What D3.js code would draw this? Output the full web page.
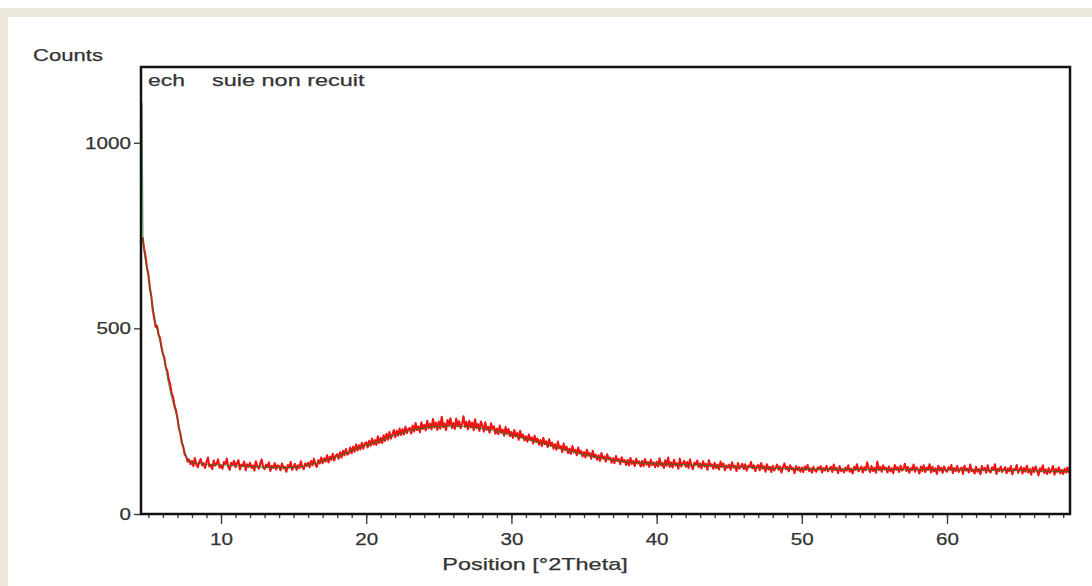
<!DOCTYPE html>
<html>
<head>
<meta charset="utf-8">
<script src="https://cdn.jsdelivr.net/npm/d3@7"></script>
<style>
  html, body { margin: 0; padding: 0; background: #fff; }
  svg { display: block; }
  text { font-family: "Liberation Sans", Arial, sans-serif; fill: #333; stroke: #333; stroke-width: 0.25; }
</style>
</head>
<body>
<svg id="chart" width="1092" height="586"></svg>
<script>
// Diffractogram: sample "suie non recuit" (unannealed soot)
const sampleName = "ech";
const sampleLabel = "suie non recuit";
const xTitle = "Position [°2Theta]";
const yTitle = "Counts";

const thetaRange = [4.49, 68.47];
const countsMax = 1204;
const xMajorTicks = [10, 20, 30, 40, 50, 60];
const yTicks = [0, 500, 1000];

// Measured scan, 0.1° steps starting at 4.6°; one row per degree
const thetaStart = 4.6;
const thetaStep = 0.1;
const counts = [
  745, 716, 695, 664,                                   // 4.6
  645, 608, 586, 549, 527, 504, 507, 483, 474, 449,     // 5
  431, 421, 395, 386, 362, 350, 325, 315, 292, 279,     // 6
  259, 231, 217, 192, 181, 160, 155, 141, 147, 134,     // 7
  143, 129, 151, 134, 126, 140, 148, 131, 137, 124,     // 8
  139, 152, 128, 133, 121, 144, 130, 136, 147, 125,     // 9
  131, 122, 140, 135, 149, 127, 119, 138, 132, 143,     // 10
  126, 137, 145, 120, 133, 129, 141, 118, 134, 127,     // 11
  138, 124, 131, 117, 142, 128, 122, 135, 147, 126,     // 12
  121, 133, 126, 139, 116, 130, 124, 137, 120, 131,     // 13
  129, 118, 136, 123, 127, 114, 132, 125, 140, 119,     // 14
  128, 135, 119, 131, 124, 142, 126, 121, 136, 129,     // 15
  138, 126, 143, 131, 149, 133, 127, 145, 136, 152,     // 16
  137, 150, 141, 158, 139, 155, 146, 162, 144, 157,     // 17
  161, 149, 166, 152, 170, 158, 175, 160, 163, 179,     // 18
  164, 181, 168, 187, 171, 185, 174, 192, 176, 189,     // 19
  193, 179, 197, 184, 203, 187, 199, 186, 209, 191,     // 20
  205, 191, 212, 197, 216, 200, 221, 203, 214, 226,     // 21
  207, 224, 211, 230, 213, 228, 214, 235, 218, 229,     // 22
  232, 217, 238, 222, 245, 226, 236, 220, 247, 229,     // 23
  240, 225, 251, 231, 243, 228, 256, 233, 246, 227,     // 24
  249, 230, 262, 234, 244, 226, 253, 238, 258, 232,     // 25
  245, 229, 257, 236, 250, 231, 243, 263, 235, 248,     // 26
  228, 251, 233, 246, 226, 255, 231, 242, 224, 249,     // 27
  238, 222, 247, 227, 235, 219, 244, 229, 236, 216,     // 28
  230, 215, 238, 219, 227, 211, 234, 216, 229, 210,     // 29
  221, 205, 226, 209, 218, 200, 224, 206, 214, 198,     // 30
  209, 195, 214, 199, 206, 190, 211, 194, 203, 187,     // 31
  199, 183, 205, 188, 196, 180, 201, 184, 192, 176,     // 32
  188, 173, 195, 177, 183, 167, 190, 172, 181, 164,     // 33
  176, 162, 183, 166, 173, 158, 179, 163, 170, 155,     // 34
  167, 152, 173, 157, 164, 149, 170, 153, 160, 146,     // 35
  158, 143, 164, 149, 155, 141, 161, 147, 152, 138,     // 36
  150, 137, 156, 142, 148, 134, 153, 140, 145, 132,     // 37
  146, 131, 151, 135, 143, 129, 149, 136, 142, 128,     // 38
  143, 129, 148, 133, 140, 127, 146, 132, 139, 126,     // 39
  141, 128, 150, 131, 138, 124, 145, 130, 152, 127,     // 40
  139, 125, 146, 131, 137, 122, 149, 128, 136, 143,     // 41
  127, 140, 124, 147, 130, 121, 138, 133, 144, 126,     // 42
  136, 123, 142, 128, 135, 119, 145, 129, 134, 122,     // 43
  138, 124, 133, 120, 141, 127, 136, 118, 131, 125,     // 44
  133, 119, 139, 125, 130, 116, 137, 122, 128, 135,     // 45
  121, 134, 117, 130, 126, 140, 123, 131, 115, 128,     // 46
  132, 118, 137, 122, 129, 114, 134, 120, 127, 113,     // 47
  130, 117, 125, 133, 119, 128, 112, 126, 136, 121,     // 48
  127, 115, 131, 120, 124, 110, 129, 118, 126, 114,     // 49
  125, 113, 128, 119, 132, 116, 123, 111, 127, 118,     // 50
  114, 126, 120, 129, 112, 124, 117, 130, 115, 122,     // 51
  127, 113, 133, 118, 124, 110, 129, 116, 121, 112,     // 52
  125, 117, 131, 114, 122, 109, 127, 119, 134, 115,     // 53
  121, 128, 112, 126, 118, 139, 123, 113, 129, 116,     // 54
  124, 111, 141, 118, 127, 114, 131, 120, 125, 112,     // 55
  128, 115, 123, 110, 132, 119, 126, 113, 130, 117,     // 56
  122, 135, 116, 127, 111, 124, 118, 133, 114, 126,     // 57
  120, 109, 128, 116, 131, 113, 125, 119, 134, 112,     // 58
  127, 115, 123, 108, 130, 117, 125, 111, 128, 118,     // 59
  114, 126, 119, 132, 110, 124, 116, 129, 113, 121,     // 60
  125, 108, 130, 117, 122, 112, 133, 115, 120, 109,     // 61
  127, 114, 121, 107, 129, 118, 124, 111, 131, 116,     // 62
  112, 125, 119, 134, 108, 122, 116, 128, 113, 120,     // 63
  126, 110, 123, 115, 129, 107, 121, 118, 132, 111,     // 64
  119, 127, 109, 124, 114, 130, 112, 121, 106, 125,     // 65
  113, 128, 117, 104, 123, 115, 131, 110, 120, 108,     // 66
  124, 111, 118, 129, 106, 121, 113, 126, 109, 119,     // 67
  108, 122, 112, 125, 110                               // 68
];

// Smooth profile (fitted background) drawn over the scan
const profileTheta = [4.56, 4.63, 5.0, 5.5, 6.0, 6.5, 7.0, 7.5, 7.8, 8.5,
  10, 12, 14, 15, 16, 17, 18, 19, 20, 21, 22, 23, 24, 25, 26, 27, 28, 29,
  30, 31, 32, 33, 34, 35, 36, 37, 38, 39, 40, 42, 45, 50, 55, 60, 65, 68.4];
const profileCounts = [1108, 740, 640, 515, 432, 330, 255, 168, 142, 136,
  132, 128, 125, 125, 132, 142, 155, 170, 185, 198, 212, 224, 232, 236, 237,
  235, 230, 222, 213, 202, 192, 180, 170, 160, 152, 145, 140, 137, 135, 133,
  128, 121, 120, 119, 117, 114];

const svg = d3.select("#chart");
const W = 1092, H = 586;
const plot = { left: 141, right: 1070, top: 67, bottom: 514 };

// Window chrome: beige strips along top and left
svg.append("rect").attr("x", 0).attr("y", 8).attr("width", W).attr("height", 9).attr("fill", "#ece8da");
svg.append("rect").attr("x", 0).attr("y", 8).attr("width", 8).attr("height", H - 8).attr("fill", "#ece8da");

const x = d3.scaleLinear().domain(thetaRange).range([plot.left, plot.right]);
const y = d3.scaleLinear().domain([0, countsMax]).range([plot.bottom, plot.top]);

// Widen glyphs horizontally to the proportions of the original plot font
function stretch(sel, k) {
  sel.each(function () {
    const w = this.getComputedTextLength();
    this.setAttribute("textLength", w * k);
    this.setAttribute("lengthAdjust", "spacingAndGlyphs");
  });
}

const scan = counts.map((c, i) => [thetaStart + i * thetaStep, c]);
const profile = profileTheta.map((t, i) => [t, profileCounts[i]]);

svg.append("clipPath").attr("id", "plotClip")
  .append("rect").attr("x", plot.left).attr("y", plot.top)
  .attr("width", plot.right - plot.left).attr("height", plot.bottom - plot.top);

const lineGen = d3.line().x(d => x(d[0])).y(d => y(d[1]));

const g = svg.append("g").attr("clip-path", "url(#plotClip)");
g.append("path").datum(scan)
  .attr("d", lineGen)
  .attr("fill", "none").attr("stroke", "#f21212").attr("stroke-width", 2.1)
  .attr("stroke-linejoin", "round");
g.append("path").datum(profile)
  .attr("d", lineGen.curve(d3.curveMonotoneX))
  .attr("fill", "none").attr("stroke", "#1f7a2a").attr("stroke-width", 1.1)
  .attr("stroke-opacity", 0.7);

// X axis: minor ticks every degree, labelled majors every 10°
const minorTicks = d3.range(5, 69, 1);
svg.append("g").attr("transform", `translate(0,${plot.bottom})`)
  .call(d3.axisBottom(x).tickValues(minorTicks).tickSize(4).tickFormat(""))
  .call(a => a.select(".domain").remove())
  .call(a => a.selectAll("line").attr("stroke", "#333").attr("stroke-width", 1.3));

const xAxis = svg.append("g").attr("transform", `translate(0,${plot.bottom})`)
  .call(d3.axisBottom(x).tickValues(xMajorTicks).tickSize(10).tickPadding(9).tickFormat(d3.format("d")))
  .call(a => a.select(".domain").remove());
xAxis.selectAll("line").attr("stroke", "#333").attr("stroke-width", 1.3);
xAxis.selectAll("text").attr("font-size", 16.5).attr("fill", "#333")
  .style("font-family", '"Liberation Sans", Arial, sans-serif');
stretch(xAxis.selectAll("text"), 1.25);

const yAxis = svg.append("g").attr("transform", `translate(${plot.left},0)`)
  .call(d3.axisLeft(y).tickValues(yTicks).tickSize(7).tickPadding(3).tickFormat(d3.format("d")))
  .call(a => a.select(".domain").remove());
yAxis.selectAll("line").attr("stroke", "#333").attr("stroke-width", 1.3);
yAxis.selectAll("text").attr("font-size", 16.5).attr("fill", "#333")
  .style("font-family", '"Liberation Sans", Arial, sans-serif');
stretch(yAxis.selectAll("text"), 1.25);

// Plot frame
svg.append("rect")
  .attr("x", plot.left).attr("y", plot.top)
  .attr("width", plot.right - plot.left).attr("height", plot.bottom - plot.top)
  .attr("fill", "none").attr("stroke", "#111").attr("stroke-width", 2.5);

// Titles
const tCounts = svg.append("text").attr("x", 33).attr("y", 61)
  .attr("font-size", 17).text(yTitle);
stretch(tCounts, 1.3);

const tName = svg.append("text").attr("x", 148).attr("y", 86)
  .attr("font-size", 17).text(sampleName);
stretch(tName, 1.35);
const tLabel = svg.append("text").attr("x", 212).attr("y", 86)
  .attr("font-size", 17).text(sampleLabel);
stretch(tLabel, 1.38);

const tX = svg.append("text").attr("x", 535).attr("y", 570)
  .attr("text-anchor", "middle").attr("font-size", 17).text(xTitle);
stretch(tX, 1.38);
</script>
</body>
</html>
